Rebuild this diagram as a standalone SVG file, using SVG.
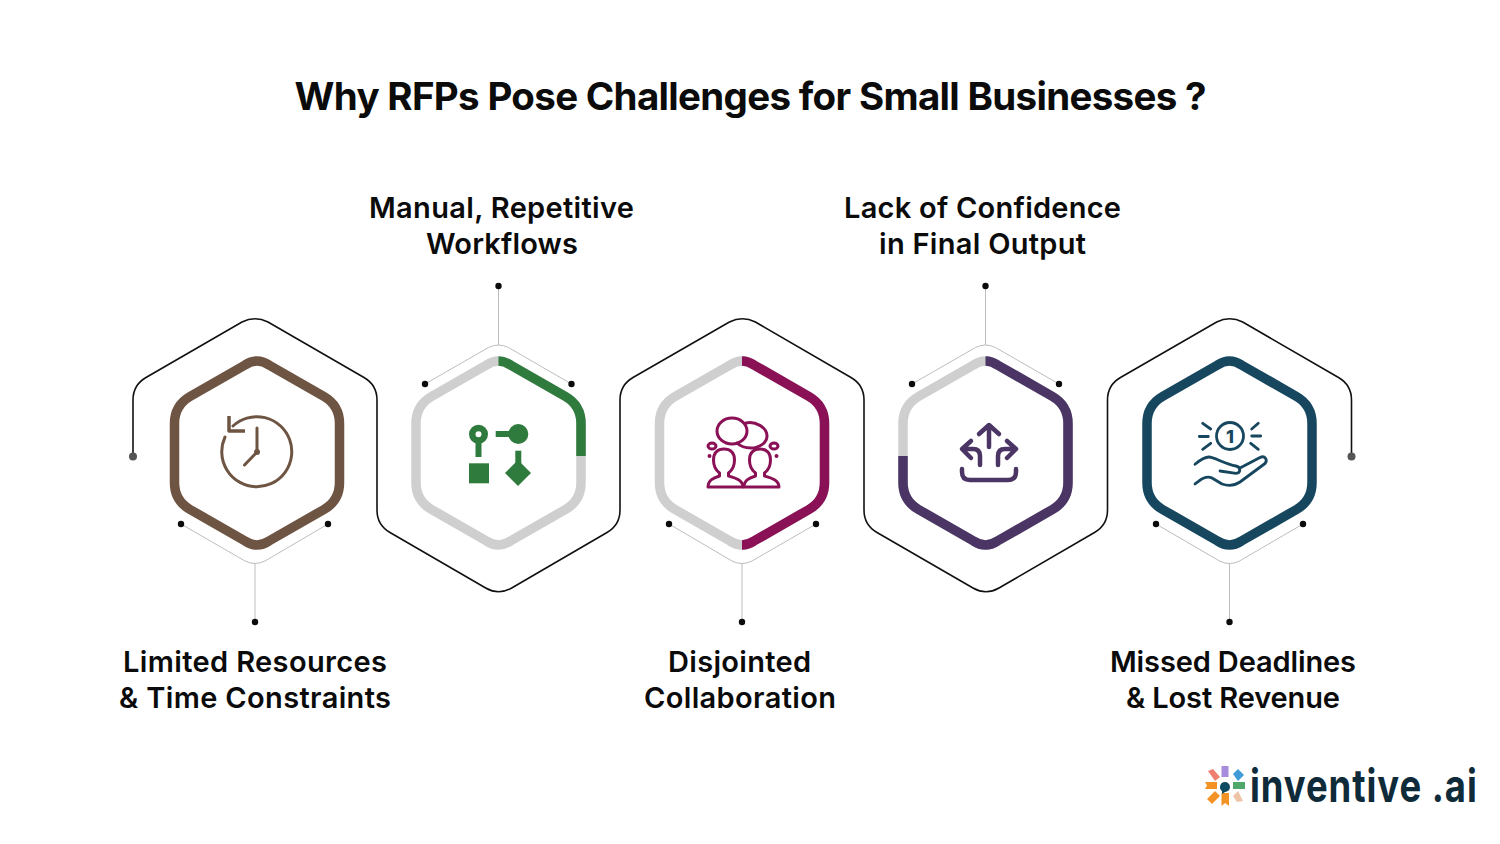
<svg xmlns="http://www.w3.org/2000/svg" width="1500" height="844" viewBox="0 0 1500 844">
<style>
text{font-family:Inter,"Liberation Sans",sans-serif;fill:#0b0b0b;text-anchor:middle}
.title{font-size:38.500px;font-weight:700}
.label{font-size:29px;font-weight:600}
.track{fill:none;stroke:#cfcfcf;stroke-width:9.500}
.arc{fill:none;stroke-width:9.500}
.thin{fill:none;stroke:#bdbdbd;stroke-width:1}
.outer{fill:none;stroke:#111;stroke-width:1.600}
.dot{fill:#0b0b0b}
.ic{fill:none;stroke-linecap:round;stroke-linejoin:round}
.logo{font-size:45px;font-weight:700;fill:#0f2b3a;text-anchor:start}
</style>
<defs>
<path id="hex" d="M-12 -88Q0 -96 12 -88L67 -56.500Q82.500 -47.500 82.500 -29.500V29.500Q82.500 47.500 67 56.500L12 88Q0 96 -12 88L-67 56.500Q-82.500 47.500 -82.500 29.500V-29.500Q-82.500 -47.500 -67 -56.500Z"/>
<path id="person" d="M-17.500 0C-17.500 -7 -12 -9 -6 -11V-14C-10 -17 -12 -22 -12 -27C-12 -34 -8 -38 -1.500 -38C5 -38 9 -34 9 -27C9 -22 7 -17 3 -14V-11C10 -9 17.500 -7 17.500 0Z"/>
</defs>
<rect width="1500" height="844" fill="#fff"/>
<text id="title" class="title" x="750.500" y="110" textLength="912" lengthAdjust="spacing">Why RFPs Pose Challenges for Small Businesses ?</text>

<g id="connectors">
<path class="outer" d="M133 456V400Q133 385 146 377.500L242 322Q255 315.500 268 322L364 377.500Q377 385 377 400V510Q377 525 390 532.500L485.700 588Q498.700 595.500 511.700 588L607 532.500Q620 525 620 510V400Q620 385 633 377.500L729.400 322Q742.400 315.500 755.400 322L851 377.500Q864 385 864 400V510Q864 525 877 532.500L973 588Q986 595.500 999 588L1094.500 532.500Q1107.500 525 1107.500 510V400Q1107.500 385 1120.500 377.500L1216.700 322Q1229.700 315.500 1242.700 322L1338.500 377.500Q1351.500 385 1351.500 400V456"/>
<circle cx="133" cy="456.500" r="4" fill="#555"/><circle cx="1351.500" cy="456.500" r="4" fill="#555"/>
<path class="thin" d="M181 524L245 561Q255 566 265 561L328 524M255 563.500V622"/>
<path class="thin" d="M425 384L488.500 347.500Q498.500 342.500 508.500 347.500L571.500 384M498.500 345V286"/>
<path class="thin" d="M669 524L732 561Q742 566 752 561L816 524M742 563.500V622"/>
<path class="thin" d="M912 384L975.500 347.500Q985.500 342.500 995.500 347.500L1059 384M985.500 345V286"/>
<path class="thin" d="M1156 524L1219.500 561Q1229.500 566 1239.500 561L1303 524M1229.500 563.500V622"/>
<g class="dot">
<circle cx="181" cy="524" r="3.200"/><circle cx="328" cy="524" r="3.200"/><circle cx="255" cy="622" r="3.200"/>
<circle cx="425" cy="384" r="3.200"/><circle cx="571.500" cy="384" r="3.200"/><circle cx="498.500" cy="286" r="3.200"/>
<circle cx="669" cy="524" r="3.200"/><circle cx="816" cy="524" r="3.200"/><circle cx="742" cy="622" r="3.200"/>
<circle cx="912" cy="384" r="3.200"/><circle cx="1059" cy="384" r="3.200"/><circle cx="985.500" cy="286" r="3.200"/>
<circle cx="1156" cy="524" r="3.200"/><circle cx="1303" cy="524" r="3.200"/><circle cx="1229.500" cy="622" r="3.200"/>
</g>
</g>

<g id="node-limited-resources">
<use href="#hex" transform="translate(257 453)" class="arc" stroke="#6e5442"/>
<g class="ic" stroke="#6e5442" stroke-width="3">
<path d="M233 426A35 35 0 1 1 225 437"/>
<path d="M229 416V431H245" stroke-width="3.500" stroke-linecap="butt"/>
<path d="M257 428V452L244.500 465"/>
</g>
<circle cx="257" cy="452" r="3" fill="#6e5442"/>
<text class="label" x="255" y="672" textLength="264">Limited Resources</text>
<text class="label" x="255" y="708" textLength="272">&amp; Time Constraints</text>
</g>

<g id="node-manual-workflows">
<use href="#hex" transform="translate(498.500 453)" class="track"/>
<path transform="translate(498.500 453)" class="arc" stroke="#2f7a3d" d="M0 -92Q6 -92 12 -88L67 -56.500Q82.500 -47.500 82.500 -29.500V3"/>
<g fill="#2f7a3d">
<path fill-rule="evenodd" d="M469 434.300a9.500 9.500 0 1 0 19 0a9.500 9.500 0 1 0 -19 0ZM475.500 434.300a3 3 0 1 1 6 0a3 3 0 1 1 -6 0Z"/>
<rect x="475.500" y="442" width="6" height="15"/>
<rect x="469" y="463.300" width="20" height="20"/>
<circle cx="518.300" cy="434" r="10"/>
<rect x="495.700" y="431" width="16" height="6"/>
<rect x="515.300" y="450.700" width="6" height="14"/>
<path d="M518 460L531 473L518 486L505 473Z"/>
</g>
<text class="label" x="501.500" y="218" textLength="265">Manual, Repetitive</text>
<text class="label" x="502" y="254" textLength="152">Workflows</text>
</g>

<g id="node-disjointed-collaboration">
<use href="#hex" transform="translate(742 453)" class="track"/>
<path transform="translate(742 453)" class="arc" stroke="#8b1156" d="M0 -92Q6 -92 12 -88L67 -56.500Q82.500 -47.500 82.500 -29.500V29.500Q82.500 47.500 67 56.500L12 88Q6 92 0 92"/>
<g class="ic" stroke="#8b1156" stroke-width="3">
<path d="M746 423C755 421 767 427 767 436C767 443 759 448 751 448C745 448 740 446 737 443"/>
<ellipse cx="732" cy="431" rx="15" ry="13"/>
<ellipse cx="712" cy="446" rx="4" ry="3"/><ellipse cx="774" cy="446" rx="4" ry="3"/>
<use href="#person" transform="translate(725.500 487)"/>
<use href="#person" transform="translate(761.500 487)"/>
</g>
<circle cx="709.500" cy="456" r="2" fill="#8b1156"/><circle cx="776.500" cy="456" r="2" fill="#8b1156"/>
<text class="label" x="739.500" y="672" textLength="143">Disjointed</text>
<text class="label" x="740" y="708" textLength="192">Collaboration</text>
</g>

<g id="node-lack-of-confidence">
<use href="#hex" transform="translate(985.500 453)" class="track"/>
<path transform="translate(985.500 453)" class="arc" stroke="#4a3565" d="M0 -92Q6 -92 12 -88L67 -56.500Q82.500 -47.500 82.500 -29.500V29.500Q82.500 47.500 67 56.500L12 88Q0 96 -12 88L-67 56.500Q-82.500 47.500 -82.500 29.500V3"/>
<g class="ic" stroke="#4a3565" stroke-width="4.500">
<path d="M979 434L989 425L999 434M989 426V447"/>
<path d="M971 441L962 449L971 458M963 449H973Q980 449 980 456V465"/>
<path d="M1007 441L1016 449L1007 458M1015 449H1005Q998 449 998 456V465"/>
<path d="M962 469V472Q962 480 970 480H1008Q1016 480 1016 472V469"/>
</g>
<text class="label" x="982.500" y="218" textLength="277">Lack of Confidence</text>
<text class="label" x="982.500" y="254" textLength="207">in Final Output</text>
</g>

<g id="node-missed-deadlines">
<use href="#hex" transform="translate(1229.500 453)" class="arc" stroke="#17475f"/>
<g class="ic" stroke="#17475f" stroke-width="2.800">
<circle cx="1230" cy="436" r="13.500"/>
<path d="M1202.700 423.300L1210.700 429M1199.300 436.500H1208.300M1202.700 449.300L1210.700 443.300M1251.700 429L1258.300 423.300M1251.700 436H1260.700M1250.700 443.300L1258.300 449.300"/>
<path d="M1195 464.300C1200 460 1204 457 1209 457C1214 457 1225 464 1236 466C1241 467 1241 473 1236 473.300L1220 471"/>
<path d="M1240 468L1260 457.500C1265 455 1268 460 1265 463.500L1240 482C1234 486 1228 486 1222 484L1212 478C1206 475 1200 480 1195 484"/>
</g>
<text x="1230" y="442.500" font-size="18" font-weight="800" style="fill:#17475f">1</text>
<text class="label" x="1233" y="672" textLength="246">Missed Deadlines</text>
<text class="label" x="1233" y="708" textLength="214">&amp; Lost Revenue</text>
</g>

<g id="logo">
<rect x="1221.500" y="766" width="7" height="11" fill="#a78bdc"/>
<path d="M1233 774L1238 769L1244 775L1238 781Z" fill="#3f9bd6"/>
<path d="M1233 782H1245V789H1233Z" fill="#4fa86a"/>
<path d="M1233 796L1238 791L1243 801L1237 802Z" fill="#eec3a6"/>
<path d="M1221.500 793H1229V806L1225 803L1221.500 806Z" fill="#f39325"/>
<path d="M1215 791L1220 796L1212 804L1207 799Z" fill="#f39325"/>
<path d="M1205 782H1217V789H1205L1207 785.500Z" fill="#f39325"/>
<path d="M1208 771L1213 769L1220 777L1215 781Z" fill="#ef7f70"/>
<path d="M1225 782A5 5 0 0 1 1225 792L1222 794V791A5 5 0 0 1 1225 782Z" fill="#0f4a63"/>
<text class="logo" transform="translate(1250 802) scale(.81 1)" x="0" y="0" textLength="280" lengthAdjust="spacing">inventive .ai</text>
</g>
</svg>
